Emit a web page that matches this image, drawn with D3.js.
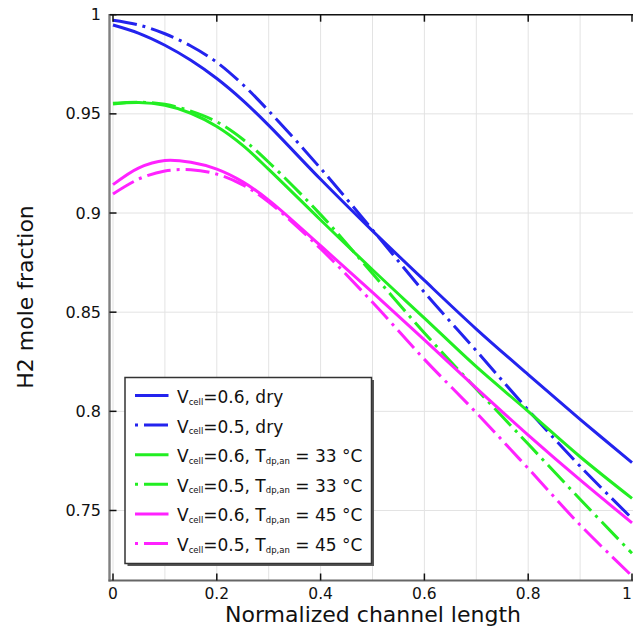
<!DOCTYPE html>
<html>
<head>
<meta charset="utf-8">
<script src="https://cdn.jsdelivr.net/npm/d3@7"></script>
<style>
  html, body { margin: 0; padding: 0; background: #fff; }
  svg { display: block; font-family: "DejaVu Sans", sans-serif; }
</style>
</head>
<body>
<svg id="chart" width="633" height="630"></svg>
<script>
// ---- data ----
const xPos = [0, 0.05, 0.1, 0.15, 0.2, 0.25, 0.3, 0.4, 0.5, 0.6, 0.7, 0.8, 0.9, 1.0];
const v06Dry  = [0.9948, 0.9906, 0.9846, 0.9770, 0.9678, 0.9568, 0.9442, 0.9170, 0.8910, 0.8660, 0.8415, 0.8185, 0.7960, 0.7741];
const v05Dry  = [0.9972, 0.9948, 0.9904, 0.9842, 0.9760, 0.9648, 0.9515, 0.9225, 0.8915, 0.8600, 0.8305, 0.8007, 0.7723, 0.7460];
const v06T33  = [0.9550, 0.9557, 0.9543, 0.9503, 0.9436, 0.9341, 0.9220, 0.8965, 0.8714, 0.8470, 0.8225, 0.8000, 0.7771, 0.7561];
const v05T33  = [0.9553, 0.9559, 0.9548, 0.9514, 0.9460, 0.9372, 0.9256, 0.8992, 0.8695, 0.8395, 0.8113, 0.7835, 0.7557, 0.7284];
const v06T45  = [0.9143, 0.9228, 0.9265, 0.9256, 0.9221, 0.9157, 0.9065, 0.8835, 0.8600, 0.8360, 0.8117, 0.7880, 0.7654, 0.7438];
const v05T45  = [0.9096, 0.9172, 0.9212, 0.9218, 0.9196, 0.9142, 0.9055, 0.8820, 0.8550, 0.8262, 0.7993, 0.7712, 0.7427, 0.7170];

const xTicks = [0, 0.2, 0.4, 0.6, 0.8, 1];
const xTickLabels = ["0", "0.2", "0.4", "0.6", "0.8", "1"];
const yTicks = [0.75, 0.8, 0.85, 0.9, 0.95, 1];
const yTickLabels = ["0.75", "0.8", "0.85", "0.9", "0.95", "1"];
const xGrid = [0.1, 0.2, 0.3, 0.4, 0.5, 0.6, 0.7, 0.8, 0.9];

const seriesNames = [
  {v: "0.6", t: null}, {v: "0.5", t: null},
  {v: "0.6", t: "33"}, {v: "0.5", t: "33"},
  {v: "0.6", t: "45"}, {v: "0.5", t: "45"}
];
const seriesValues = [v06Dry, v05Dry, v06T33, v05T33, v06T45, v05T45];
const seriesColors = ["#2323ee", "#2323ee", "#22ee22", "#22ee22", "#ff22ff", "#ff22ff"];
const seriesDashed = [false, true, false, true, false, true];

// ---- layout ----
const svg = d3.select("#chart");
const frame = {left: 109.5, right: 636, top: 14.7, bottom: 580.5};
const x = d3.scaleLinear().domain([0, 1]).range([113, 632]);
const y = d3.scaleLinear().domain([0.7147, 1]).range([580.5, 14.7]);

svg.append("defs").append("clipPath").attr("id", "plotclip")
  .append("rect").attr("x", frame.left).attr("y", frame.top)
  .attr("width", frame.right - frame.left).attr("height", frame.bottom - frame.top);

// grid
const grid = svg.append("g").attr("stroke", "#e3e3e3").attr("stroke-width", 1);
grid.selectAll("line.vx").data([0].concat(xGrid)).join("line")
  .attr("x1", d => x(d)).attr("x2", d => x(d))
  .attr("y1", frame.top).attr("y2", frame.bottom);
grid.selectAll("line.hy").data(yTicks).join("line")
  .attr("x1", frame.left).attr("x2", frame.right)
  .attr("y1", d => y(d)).attr("y2", d => y(d));

// lines
const dashPattern = "24,6,3,6";
const line = d3.line().x((d, i) => x(xPos[i])).y(d => y(d)).curve(d3.curveCatmullRom.alpha(0.5));
const lines = svg.append("g").attr("clip-path", "url(#plotclip)");
seriesValues.forEach((vals, i) => {
  lines.append("path").datum(vals)
    .attr("d", line)
    .attr("fill", "none")
    .attr("stroke", seriesColors[i])
    .attr("stroke-width", 3)
    .attr("stroke-dasharray", seriesDashed[i] ? dashPattern : null);
});

// axes frame
svg.append("line").attr("x1", frame.left).attr("x2", frame.right)
  .attr("y1", frame.top).attr("y2", frame.top).attr("stroke", "#111").attr("stroke-width", 1.5);
svg.append("line").attr("x1", frame.left).attr("x2", frame.left)
  .attr("y1", frame.top - 0.7).attr("y2", frame.bottom + 1).attr("stroke", "#808080").attr("stroke-width", 2.4);
svg.append("line").attr("x1", frame.left - 1).attr("x2", frame.right)
  .attr("y1", frame.bottom).attr("y2", frame.bottom).attr("stroke", "#666").attr("stroke-width", 2);

// ticks (inside)
const tickG = svg.append("g").attr("stroke", "#111").attr("stroke-width", 1.5);
tickG.selectAll("line.xb").data(xTicks).join("line")
  .attr("x1", d => x(d)).attr("x2", d => x(d))
  .attr("y1", frame.bottom).attr("y2", frame.bottom - 7);
tickG.selectAll("line.xt").data(xTicks).join("line")
  .attr("x1", d => x(d)).attr("x2", d => x(d))
  .attr("y1", frame.top).attr("y2", frame.top + 7);
tickG.selectAll("line.yl").data(yTicks).join("line")
  .attr("x1", frame.left).attr("x2", frame.left + 7)
  .attr("y1", d => y(d)).attr("y2", d => y(d));

// tick labels
svg.append("g").selectAll("text").data(xTicks).join("text")
  .attr("x", d => Math.min(x(d), 627)).attr("y", 599)
  .attr("text-anchor", "middle").attr("font-size", 15.5).attr("fill", "#111")
  .text((d, i) => xTickLabels[i]);
svg.append("g").selectAll("text").data(yTicks).join("text")
  .attr("x", 101).attr("y", d => y(d) + 5.5)
  .attr("text-anchor", "end").attr("font-size", 16).attr("fill", "#111")
  .text((d, i) => yTickLabels[i]);

// axis titles
svg.append("text").attr("x", 373).attr("y", 622)
  .attr("text-anchor", "middle").attr("font-size", 22).attr("fill", "#111")
  .text("Normalized channel length");
svg.append("text").attr("transform", "translate(33,297) rotate(-90)")
  .attr("text-anchor", "middle").attr("font-size", 22).attr("fill", "#111")
  .text("H2 mole fraction");

// legend
const lg = svg.append("g");
const box = {x: 125, y: 377.5, w: 246.5, h: 186};
lg.append("rect").attr("x", box.x + 2.5).attr("y", box.y + 2.5).attr("width", box.w).attr("height", box.h)
  .attr("fill", "#555");
lg.append("rect").attr("x", box.x).attr("y", box.y).attr("width", box.w).attr("height", box.h)
  .attr("fill", "#fff").attr("stroke", "#333").attr("stroke-width", 1.5);
const rowY = i => 395.5 + i * 29.6;
seriesNames.forEach((s, i) => {
  const yy = rowY(i);
  lg.append("line").attr("x1", 135).attr("x2", 168.5).attr("y1", yy).attr("y2", yy)
    .attr("stroke", seriesColors[i]).attr("stroke-width", 3)
    .attr("stroke-dasharray", seriesDashed[i] ? dashPattern : null)
    .attr("stroke-dashoffset", seriesDashed[i] ? 30 : null);
  const t = lg.append("text").attr("x", 177).attr("y", yy + 7.5).attr("font-size", 17).attr("fill", "#111");
  t.append("tspan").text("V");
  t.append("tspan").attr("font-size", 8.5).attr("dy", 1.5).text("cell");
  if (s.t === null) {
    t.append("tspan").attr("dy", -1.5).text("=" + s.v + ", dry");
  } else {
    t.append("tspan").attr("dy", -1.5).text("=" + s.v + ", T");
    t.append("tspan").attr("font-size", 8.5).attr("dy", 1.5).text("dp,an");
    t.append("tspan").attr("dy", -1.5).text(" = " + s.t + " °C");
  }
});
</script>
</body>
</html>
